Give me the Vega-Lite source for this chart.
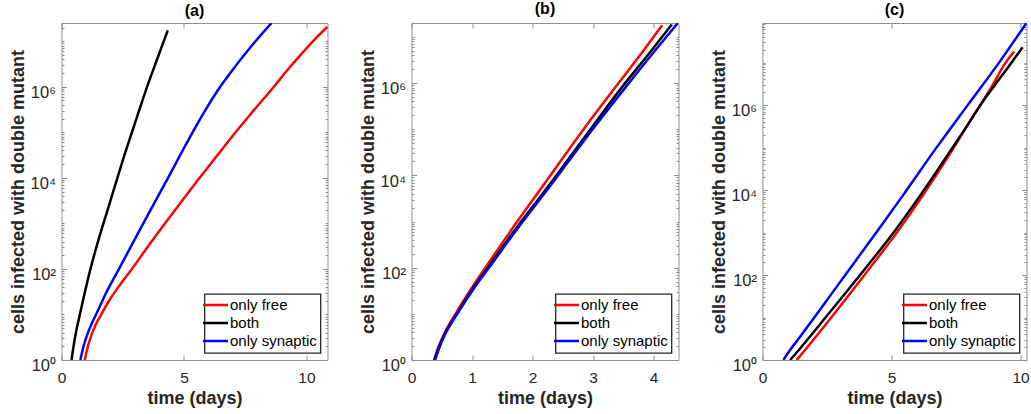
{
  "$schema": "https://vega.github.io/schema/vega-lite/v6.json",
  "autosize": {"type": "pad"},
  "padding": {"left": 8.5, "top": 0, "right": 0, "bottom": 0},
  "background": "white",
  "bounds": "flush",
  "spacing": 84,
  "config": {
    "font": "Liberation Sans",
    "view": {"stroke": "#8f8f8f", "strokeWidth": 1},
    "axis": {"domain": false, "grid": false, "tickColor": "#8f8f8f", "tickWidth": 1, "labelColor": "#262626", "labelFont": "Liberation Sans", "labelFontSize": 15.5, "titleFont": "Liberation Sans", "titleFontSize": 18, "titleFontWeight": "bold", "titleColor": "#262626", "labelFlush": false, "labelOverlap": false},
    "axisY": {"labelFontSize": 16.5},
    "legend": {"orient": "bottom-right", "offset": 7, "title": null, "symbolType": "M-2,0H2", "symbolSize": 156.25, "symbolStrokeWidth": 2.5, "labelFontSize": 15, "labelFont": "Liberation Sans", "labelColor": "#000000", "labelOffset": 7, "padding": 3.5, "rowPadding": 2, "strokeColor": "#262626", "strokeWidth": 1.3, "fillColor": "#ffffff"},
    "title": {"font": "Liberation Sans", "fontSize": 16, "fontWeight": "bold", "color": "#000000", "baseline": "alphabetic", "offset": 3.8}
  },
  "datasets": {
    "a": [
      {"t": 0.95, "cells": 1, "series": "only free"},
      {"t": 1.08, "cells": 2.0, "series": "only free"},
      {"t": 1.22, "cells": 3.47, "series": "only free"},
      {"t": 1.4, "cells": 6.03, "series": "only free"},
      {"t": 1.63, "cells": 10.2, "series": "only free"},
      {"t": 2.0, "cells": 22.4, "series": "only free"},
      {"t": 2.4, "cells": 45.7, "series": "only free"},
      {"t": 2.85, "cells": 95.5, "series": "only free"},
      {"t": 3.5, "cells": 295, "series": "only free"},
      {"t": 4.13, "cells": 851, "series": "only free"},
      {"t": 5.0, "cells": 3548, "series": "only free"},
      {"t": 5.57, "cells": 8913, "series": "only free"},
      {"t": 6.3, "cells": 28184, "series": "only free"},
      {"t": 6.91, "cells": 74131, "series": "only free"},
      {"t": 7.8, "cells": 281838, "series": "only free"},
      {"t": 8.67, "cells": 1000000, "series": "only free"},
      {"t": 9.2, "cells": 2238721, "series": "only free"},
      {"t": 9.76, "cells": 5011872, "series": "only free"},
      {"t": 10.3, "cells": 10471285, "series": "only free"},
      {"t": 10.86, "cells": 20892961, "series": "only free"},
      {"t": 0.41, "cells": 1, "series": "both"},
      {"t": 0.5, "cells": 2.14, "series": "both"},
      {"t": 0.6, "cells": 4.27, "series": "both"},
      {"t": 0.75, "cells": 10, "series": "both"},
      {"t": 0.95, "cells": 30.2, "series": "both"},
      {"t": 1.15, "cells": 85.1, "series": "both"},
      {"t": 1.5, "cells": 417, "series": "both"},
      {"t": 2.0, "cells": 3162, "series": "both"},
      {"t": 2.5, "cells": 23988, "series": "both"},
      {"t": 3.0, "cells": 158489, "series": "both"},
      {"t": 3.43, "cells": 794328, "series": "both"},
      {"t": 3.88, "cells": 3715352, "series": "both"},
      {"t": 4.34, "cells": 17378008, "series": "both"},
      {"t": 0.77, "cells": 1, "series": "only synaptic"},
      {"t": 0.9, "cells": 2.0, "series": "only synaptic"},
      {"t": 1.04, "cells": 3.47, "series": "only synaptic"},
      {"t": 1.2, "cells": 5.75, "series": "only synaptic"},
      {"t": 1.42, "cells": 10.2, "series": "only synaptic"},
      {"t": 1.8, "cells": 28.2, "series": "only synaptic"},
      {"t": 2.37, "cells": 105, "series": "only synaptic"},
      {"t": 3.0, "cells": 457, "series": "only synaptic"},
      {"t": 3.5, "cells": 1445, "series": "only synaptic"},
      {"t": 4.3, "cells": 8913, "series": "only synaptic"},
      {"t": 5.15, "cells": 63096, "series": "only synaptic"},
      {"t": 5.8, "cells": 263027, "series": "only synaptic"},
      {"t": 6.39, "cells": 851138, "series": "only synaptic"},
      {"t": 7.0, "cells": 2398833, "series": "only synaptic"},
      {"t": 7.45, "cells": 4897788, "series": "only synaptic"},
      {"t": 8.0, "cells": 11220185, "series": "only synaptic"},
      {"t": 8.58, "cells": 25118864, "series": "only synaptic"}
    ],
    "b": [
      {"t": 0.37, "cells": 1, "series": "only free"},
      {"t": 0.45, "cells": 2, "series": "only free"},
      {"t": 0.53, "cells": 3.47, "series": "only free"},
      {"t": 0.75, "cells": 11.2, "series": "only free"},
      {"t": 1.0, "cells": 37.2, "series": "only free"},
      {"t": 1.22, "cells": 100, "series": "only free"},
      {"t": 1.72, "cells": 891, "series": "only free"},
      {"t": 2.13, "cells": 5012, "series": "only free"},
      {"t": 2.87, "cells": 112202, "series": "only free"},
      {"t": 3.42, "cells": 1000000, "series": "only free"},
      {"t": 3.83, "cells": 5011872, "series": "only free"},
      {"t": 4.14, "cells": 17782794, "series": "only free"},
      {"t": 0.38, "cells": 1, "series": "both"},
      {"t": 0.46, "cells": 2, "series": "both"},
      {"t": 0.54, "cells": 3.47, "series": "both"},
      {"t": 0.77, "cells": 11.2, "series": "both"},
      {"t": 1.02, "cells": 36.3, "series": "both"},
      {"t": 1.26, "cells": 100, "series": "both"},
      {"t": 1.76, "cells": 813, "series": "both"},
      {"t": 2.2, "cells": 4571, "series": "both"},
      {"t": 2.95, "cells": 97724, "series": "both"},
      {"t": 3.5, "cells": 891251, "series": "both"},
      {"t": 3.96, "cells": 5011872, "series": "both"},
      {"t": 4.3, "cells": 18620871, "series": "both"},
      {"t": 0.39, "cells": 1, "series": "only synaptic"},
      {"t": 0.47, "cells": 2, "series": "only synaptic"},
      {"t": 0.55, "cells": 3.47, "series": "only synaptic"},
      {"t": 0.78, "cells": 11.2, "series": "only synaptic"},
      {"t": 1.03, "cells": 35.5, "series": "only synaptic"},
      {"t": 1.28, "cells": 100, "series": "only synaptic"},
      {"t": 1.78, "cells": 794, "series": "only synaptic"},
      {"t": 2.22, "cells": 4467, "series": "only synaptic"},
      {"t": 2.98, "cells": 95499, "series": "only synaptic"},
      {"t": 3.56, "cells": 891251, "series": "only synaptic"},
      {"t": 4.02, "cells": 5011872, "series": "only synaptic"},
      {"t": 4.4, "cells": 20000000, "series": "only synaptic"}
    ],
    "c": [
      {"t": 1.33, "cells": 1, "series": "only free"},
      {"t": 2.65, "cells": 9.77, "series": "only free"},
      {"t": 3.95, "cells": 100, "series": "only free"},
      {"t": 5.27, "cells": 1122, "series": "only free"},
      {"t": 6.3, "cells": 8913, "series": "only free"},
      {"t": 7.26, "cells": 70795, "series": "only free"},
      {"t": 7.97, "cells": 354813, "series": "only free"},
      {"t": 8.39, "cells": 891251, "series": "only free"},
      {"t": 8.9, "cells": 2818383, "series": "only free"},
      {"t": 9.37, "cells": 8912509, "series": "only free"},
      {"t": 9.75, "cells": 18197009, "series": "only free"},
      {"t": 1.07, "cells": 1, "series": "both"},
      {"t": 1.5, "cells": 2, "series": "both"},
      {"t": 2.43, "cells": 9.77, "series": "both"},
      {"t": 3.78, "cells": 100, "series": "both"},
      {"t": 5.14, "cells": 1122, "series": "both"},
      {"t": 6.2, "cells": 8913, "series": "both"},
      {"t": 7.2, "cells": 70795, "series": "both"},
      {"t": 7.97, "cells": 354813, "series": "both"},
      {"t": 8.39, "cells": 891251, "series": "both"},
      {"t": 8.98, "cells": 2818383, "series": "both"},
      {"t": 9.59, "cells": 8912509, "series": "both"},
      {"t": 10.08, "cells": 22908677, "series": "both"},
      {"t": 0.81, "cells": 1, "series": "only synaptic"},
      {"t": 1.0, "cells": 1.5, "series": "only synaptic"},
      {"t": 1.4, "cells": 3.16, "series": "only synaptic"},
      {"t": 2.1, "cells": 12.0, "series": "only synaptic"},
      {"t": 3.3, "cells": 120, "series": "only synaptic"},
      {"t": 4.55, "cells": 1318, "series": "only synaptic"},
      {"t": 5.45, "cells": 7586, "series": "only synaptic"},
      {"t": 6.72, "cells": 95499, "series": "only synaptic"},
      {"t": 7.93, "cells": 954993, "series": "only synaptic"},
      {"t": 9.11, "cells": 8912509, "series": "only synaptic"},
      {"t": 10.23, "cells": 85113804, "series": "only synaptic"}
    ]
  },
  "resolve": {"scale": {"color": "independent", "x": "independent", "y": "independent"}, "legend": {"color": "independent"}},
  "hconcat": [
    {
      "width": 266, "height": 337,
      "title": "(a)",
      "data": {"name": "a"},
      "layer": [
        {
          "mark": {"type": "line", "clip": true, "interpolate": "monotone", "strokeWidth": 2.5},
          "encoding": {
            "x": {"field": "t", "type": "quantitative", "scale": {"domain": [0, 10.86], "nice": false, "zero": false},
              "axis": {"orient": "bottom", "values": [0, 5, 10], "title": "time (days)", "tickSize": -5, "labelPadding": 27, "labelBaseline": "alphabetic", "titleBaseline": "alphabetic", "titleY": 43}},
            "y": {"field": "cells", "type": "quantitative", "scale": {"type": "log", "domain": [1, 25118864], "nice": false},
              "axis": {"orient": "left", "values": [1,2,3,4,5,6,7,8,9,10,20,30,40,50,60,70,80,90,100,200,300,400,500,600,700,800,900,1000,2000,3000,4000,5000,6000,7000,8000,9000,10000,20000,30000,40000,50000,60000,70000,80000,90000,100000,200000,300000,400000,500000,600000,700000,800000,900000,1000000,2000000,3000000,4000000,5000000,6000000,7000000,8000000,9000000,10000000,20000000],
                "labelExpr": "datum.value == 1 ? '10⁰' : datum.value == 100 ? '10²' : datum.value == 10000 ? '10⁴' : datum.value == 1000000 ? '10⁶' : ''",
                "tickSize": {"condition": {"test": "indexof([1,100,10000,1000000], datum.value) >= 0", "value": -5}, "value": -2.5},
                "labelPadding": 11, "labelBaseline": "alphabetic", "labelOffset": 10.7,
                "title": "cells infected with double mutant", "titleBaseline": "alphabetic", "titleX": -38.5, "titleY": 168.5}},
            "color": {"field": "series", "type": "nominal", "scale": {"domain": ["only free", "both", "only synaptic"], "range": ["#ff0000", "#000000", "#0000ff"]}, "legend": {}}
          }
        },
        {
          "mark": {"type": "line", "clip": true, "opacity": 0},
          "encoding": {
            "x": {"field": "t", "type": "quantitative", "scale": {"domain": [0, 10.86], "nice": false, "zero": false},
              "axis": {"orient": "top", "values": [0, 5, 10], "labels": false, "title": null, "tickSize": -5}},
            "y": {"field": "cells", "type": "quantitative", "scale": {"type": "log", "domain": [1, 25118864], "nice": false},
              "axis": {"orient": "right", "values": [1,2,3,4,5,6,7,8,9,10,20,30,40,50,60,70,80,90,100,200,300,400,500,600,700,800,900,1000,2000,3000,4000,5000,6000,7000,8000,9000,10000,20000,30000,40000,50000,60000,70000,80000,90000,100000,200000,300000,400000,500000,600000,700000,800000,900000,1000000,2000000,3000000,4000000,5000000,6000000,7000000,8000000,9000000,10000000,20000000],
                "labels": false, "title": null,
                "tickSize": {"condition": {"test": "indexof([1,100,10000,1000000], datum.value) >= 0", "value": -5}, "value": -2.5}}},
            "detail": {"field": "series"}
          }
        }
      ],
      "resolve": {"axis": {"x": "independent", "y": "independent"}}
    },
    {
      "width": 267, "height": 337,
      "title": "(b)",
      "data": {"name": "b"},
      "layer": [
        {
          "mark": {"type": "line", "clip": true, "interpolate": "monotone", "strokeWidth": 2.5},
          "encoding": {
            "x": {"field": "t", "type": "quantitative", "scale": {"domain": [0, 4.41], "nice": false, "zero": false},
              "axis": {"orient": "bottom", "values": [0, 1, 2, 3, 4], "title": "time (days)", "tickSize": -5, "labelPadding": 27, "labelBaseline": "alphabetic", "titleBaseline": "alphabetic", "titleY": 43}},
            "y": {"field": "cells", "type": "quantitative", "scale": {"type": "log", "domain": [1, 20000000], "nice": false},
              "axis": {"orient": "left", "values": [1,2,3,4,5,6,7,8,9,10,20,30,40,50,60,70,80,90,100,200,300,400,500,600,700,800,900,1000,2000,3000,4000,5000,6000,7000,8000,9000,10000,20000,30000,40000,50000,60000,70000,80000,90000,100000,200000,300000,400000,500000,600000,700000,800000,900000,1000000,2000000,3000000,4000000,5000000,6000000,7000000,8000000,9000000,10000000,20000000],
                "labelExpr": "datum.value == 1 ? '10⁰' : datum.value == 100 ? '10²' : datum.value == 10000 ? '10⁴' : datum.value == 1000000 ? '10⁶' : ''",
                "tickSize": {"condition": {"test": "indexof([1,100,10000,1000000], datum.value) >= 0", "value": -5}, "value": -2.5},
                "labelPadding": 11, "labelBaseline": "alphabetic", "labelOffset": 10.7,
                "title": "cells infected with double mutant", "titleBaseline": "alphabetic", "titleX": -38.5, "titleY": 168.5}},
            "color": {"field": "series", "type": "nominal", "scale": {"domain": ["only free", "both", "only synaptic"], "range": ["#ff0000", "#000000", "#0000ff"]}, "legend": {}}
          }
        },
        {
          "mark": {"type": "line", "clip": true, "opacity": 0},
          "encoding": {
            "x": {"field": "t", "type": "quantitative", "scale": {"domain": [0, 4.41], "nice": false, "zero": false},
              "axis": {"orient": "top", "values": [0, 1, 2, 3, 4], "labels": false, "title": null, "tickSize": -5}},
            "y": {"field": "cells", "type": "quantitative", "scale": {"type": "log", "domain": [1, 20000000], "nice": false},
              "axis": {"orient": "right", "values": [1,2,3,4,5,6,7,8,9,10,20,30,40,50,60,70,80,90,100,200,300,400,500,600,700,800,900,1000,2000,3000,4000,5000,6000,7000,8000,9000,10000,20000,30000,40000,50000,60000,70000,80000,90000,100000,200000,300000,400000,500000,600000,700000,800000,900000,1000000,2000000,3000000,4000000,5000000,6000000,7000000,8000000,9000000,10000000,20000000],
                "labels": false, "title": null,
                "tickSize": {"condition": {"test": "indexof([1,100,10000,1000000], datum.value) >= 0", "value": -5}, "value": -2.5}}},
            "detail": {"field": "series"}
          }
        }
      ],
      "resolve": {"axis": {"x": "independent", "y": "independent"}}
    },
    {
      "width": 264, "height": 337,
      "title": "(c)",
      "data": {"name": "c"},
      "layer": [
        {
          "mark": {"type": "line", "clip": true, "interpolate": "monotone", "strokeWidth": 2.5},
          "encoding": {
            "x": {"field": "t", "type": "quantitative", "scale": {"domain": [0, 10.23], "nice": false, "zero": false},
              "axis": {"orient": "bottom", "values": [0, 5, 10], "title": "time (days)", "tickSize": -5, "labelPadding": 27, "labelBaseline": "alphabetic", "titleBaseline": "alphabetic", "titleY": 43}},
            "y": {"field": "cells", "type": "quantitative", "scale": {"type": "log", "domain": [1, 85113804], "nice": false},
              "axis": {"orient": "left", "values": [1,2,3,4,5,6,7,8,9,10,20,30,40,50,60,70,80,90,100,200,300,400,500,600,700,800,900,1000,2000,3000,4000,5000,6000,7000,8000,9000,10000,20000,30000,40000,50000,60000,70000,80000,90000,100000,200000,300000,400000,500000,600000,700000,800000,900000,1000000,2000000,3000000,4000000,5000000,6000000,7000000,8000000,9000000,10000000,20000000,30000000,40000000,50000000,60000000,70000000,80000000],
                "labelExpr": "datum.value == 1 ? '10⁰' : datum.value == 100 ? '10²' : datum.value == 10000 ? '10⁴' : datum.value == 1000000 ? '10⁶' : ''",
                "tickSize": {"condition": {"test": "indexof([1,100,10000,1000000], datum.value) >= 0", "value": -5}, "value": -2.5},
                "labelPadding": 11, "labelBaseline": "alphabetic", "labelOffset": 10.7,
                "title": "cells infected with double mutant", "titleBaseline": "alphabetic", "titleX": -38.5, "titleY": 168.5}},
            "color": {"field": "series", "type": "nominal", "scale": {"domain": ["only free", "both", "only synaptic"], "range": ["#ff0000", "#000000", "#0000ff"]}, "legend": {}}
          }
        },
        {
          "mark": {"type": "line", "clip": true, "opacity": 0},
          "encoding": {
            "x": {"field": "t", "type": "quantitative", "scale": {"domain": [0, 10.23], "nice": false, "zero": false},
              "axis": {"orient": "top", "values": [0, 5, 10], "labels": false, "title": null, "tickSize": -5}},
            "y": {"field": "cells", "type": "quantitative", "scale": {"type": "log", "domain": [1, 85113804], "nice": false},
              "axis": {"orient": "right", "values": [1,2,3,4,5,6,7,8,9,10,20,30,40,50,60,70,80,90,100,200,300,400,500,600,700,800,900,1000,2000,3000,4000,5000,6000,7000,8000,9000,10000,20000,30000,40000,50000,60000,70000,80000,90000,100000,200000,300000,400000,500000,600000,700000,800000,900000,1000000,2000000,3000000,4000000,5000000,6000000,7000000,8000000,9000000,10000000,20000000,30000000,40000000,50000000,60000000,70000000,80000000],
                "labels": false, "title": null,
                "tickSize": {"condition": {"test": "indexof([1,100,10000,1000000], datum.value) >= 0", "value": -5}, "value": -2.5}}},
            "detail": {"field": "series"}
          }
        }
      ],
      "resolve": {"axis": {"x": "independent", "y": "independent"}}
    }
  ]
}
